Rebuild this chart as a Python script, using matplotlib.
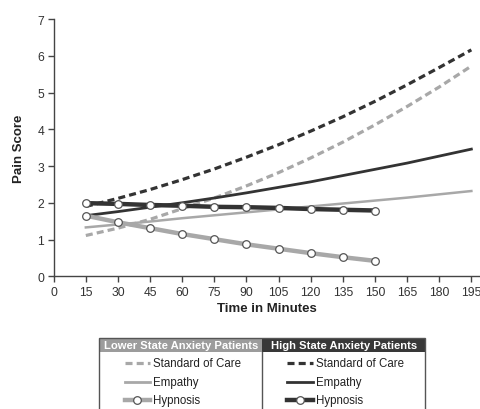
import matplotlib
matplotlib.use("Agg")
import matplotlib.pyplot as plt
from matplotlib.lines import Line2D
from matplotlib.patches import Rectangle

plt.rcParams['font.family'] = ['Liberation Sans', 'DejaVu Sans']

# time points (minutes)
minutes = [15, 30, 45, 60, 75, 90, 105, 120, 135, 150, 165, 180, 195]
minutes_hyp = [15, 30, 45, 60, 75, 90, 105, 120, 135, 150]

# lower state anxiety patients
low_soc = [1.11, 1.31, 1.55, 1.84, 2.13, 2.46, 2.82, 3.22, 3.65, 4.12, 4.62, 5.15, 5.72]
low_emp = [1.33, 1.41, 1.49, 1.58, 1.66, 1.74, 1.82, 1.90, 1.98, 2.06, 2.14, 2.23, 2.32]
low_hyp = [1.65, 1.47, 1.31, 1.15, 1.01, 0.87, 0.75, 0.63, 0.52, 0.42]

# high state anxiety patients
high_soc = [1.90, 2.12, 2.36, 2.63, 2.92, 3.24, 3.58, 3.95, 4.34, 4.76, 5.21, 5.68, 6.16]
high_emp = [1.65, 1.76, 1.88, 2.00, 2.13, 2.27, 2.42, 2.57, 2.74, 2.91, 3.08, 3.27, 3.46]
high_hyp = [1.99, 1.97, 1.94, 1.92, 1.89, 1.88, 1.86, 1.83, 1.81, 1.79]

xticks = list(range(0, 196, 15))
yticks = list(range(0, 8))

DARK = '#333333'
LIGHT = '#a8a8a8'
W, H = 481, 410

fig = plt.figure(figsize=(W / 100, H / 100), dpi=100)
ax = fig.add_axes([53.7 / W, 1 - 277.3 / H, 1 - 53.7 / W, (277.3 - 20) / H])

dash = (0, (2.2, 1.3))
ax.plot(minutes, low_soc, color=LIGHT, lw=2.3, linestyle=dash, zorder=2)
ax.plot(minutes, high_soc, color=DARK, lw=2.3, linestyle=dash, zorder=2)
ax.plot(minutes, low_emp, color=LIGHT, lw=1.8, zorder=3)
ax.plot(minutes, high_emp, color=DARK, lw=2.0, zorder=3)
ax.plot(minutes_hyp, high_hyp, color=DARK, lw=3.2, marker='o', ms=5.5,
        mfc='white', mec='#555555', mew=0.9, zorder=4)
ax.plot(minutes_hyp, low_hyp, color=LIGHT, lw=3.2, marker='o', ms=5.5,
        mfc='white', mec='#555555', mew=0.9, zorder=4)

ax.set_xlim(0, 199.5)
ax.set_ylim(0, 7)
ax.set_xticks(xticks)
ax.set_yticks(yticks)
for s in ['top', 'right']:
    ax.spines[s].set_visible(False)
for s in ['left', 'bottom']:
    ax.spines[s].set_color('#444444')
    ax.spines[s].set_linewidth(1.0)
ax.tick_params(direction='out', length=4, width=1, color='#444444',
               labelsize=8.7, labelcolor='#333333', pad=3)
ax.set_xlabel('Time in Minutes', fontsize=9.5, fontweight='bold', color='#222222', labelpad=3)
ax.set_ylabel('Pain Score', fontsize=9.5, fontweight='bold', color='#222222', labelpad=9)

# legend table below the chart
def fx(px):
    return px / W

def fy(py):
    return 1 - py / H

left, mid, right = 99.3, 262.3, 425.0
top, head_bot, bottom = 339.0, 353.3, 420.0

fig.add_artist(Rectangle((fx(left), fy(head_bot)), fx(mid) - fx(left), fy(top) - fy(head_bot),
                         transform=fig.transFigure, facecolor='#9c9c9c', edgecolor='none'))
fig.add_artist(Rectangle((fx(mid), fy(head_bot)), fx(right) - fx(mid), fy(top) - fy(head_bot),
                         transform=fig.transFigure, facecolor='#383838', edgecolor='none'))
fig.add_artist(Rectangle((fx(left), fy(bottom)), fx(right) - fx(left), fy(top) - fy(bottom),
                         transform=fig.transFigure, facecolor='none', edgecolor='#555555', lw=1.0))
fig.add_artist(Line2D([fx(mid), fx(mid)], [fy(head_bot), fy(bottom)], transform=fig.transFigure,
                      color='#555555', lw=1.0))

fig.text(fx((left + mid) / 2), fy((top + head_bot) / 2), 'Lower State Anxiety Patients',
         ha='center', va='center', color='white', fontsize=8.1, fontweight='bold')
fig.text(fx((mid + right) / 2), fy((top + head_bot) / 2), 'High State Anxiety Patients',
         ha='center', va='center', color='white', fontsize=8.1, fontweight='bold')

rows = [364.3, 383.3, 401.0]
labels = ['Standard of Care', 'Empathy', 'Hypnosis']
cols = [(125.0, 150.0, 153.5, LIGHT), (287.3, 312.7, 316.0, DARK)]
for x0, x1, xt, col in cols:
    for i, (ry, lab) in enumerate(zip(rows, labels)):
        if i == 0:
            fig.add_artist(Line2D([fx(x0), fx(x1)], [fy(ry), fy(ry)], transform=fig.transFigure,
                                  color=col, lw=2.3, linestyle=dash))
        elif i == 1:
            fig.add_artist(Line2D([fx(x0), fx(x1)], [fy(ry), fy(ry)], transform=fig.transFigure,
                                  color=col, lw=2.0))
        else:
            xm = (x0 + x1) / 2
            fig.add_artist(Line2D([fx(x0), fx(xm), fx(x1)], [fy(ry)] * 3, transform=fig.transFigure,
                                  color=col, lw=3.2, marker='o', ms=5.5, markevery=[1],
                                  mfc='white', mec='#555555', mew=0.9))
        fig.text(fx(xt), fy(ry), lab, ha='left', va='center', fontsize=8.3, color='#222222')

fig.savefig('out.png', dpi=100)
